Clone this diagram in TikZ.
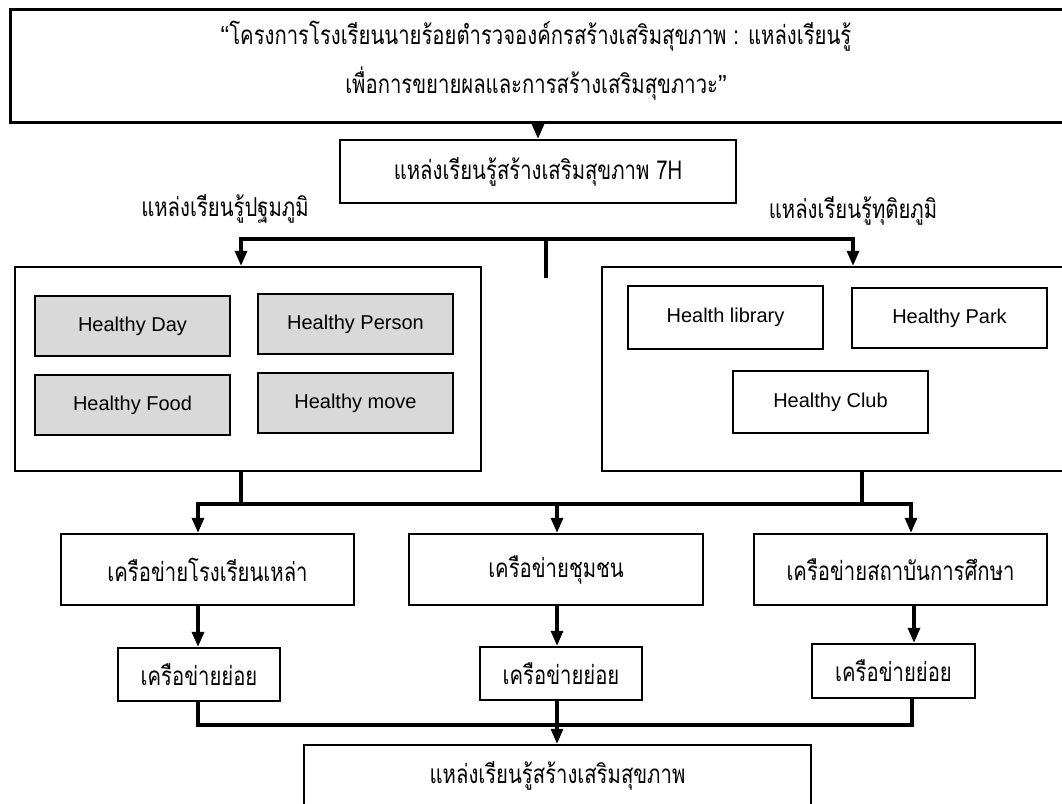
\documentclass[tikz,border=0pt]{standalone}
\usepackage{fontspec}
\setmainfont{Liberation Sans}
\newfontfamily\thaifont[Script=Thai,FakeStretch=0.78]{Loma}
\usetikzlibrary{arrows.meta}

\begin{document}
\begin{tikzpicture}[x=1pt, y=-1pt,
  every node/.style = {shape=rectangle, align=center, inner sep=0pt},
  box/.style = {draw, line width=2.4pt,
    font=\thaifont\fontsize{26pt}{30pt}\selectfont},
  hbox/.style = {draw, line width=1.6pt, fill=black!15,
    minimum width=195pt, minimum height=60pt,
    font=\fontsize{20pt}{24pt}\selectfont},
  ibox/.style = {hbox, fill=white},
  lbl/.style = {font=\thaifont\fontsize{26pt}{30pt}\selectfont},
  conn/.style = {line width=3.2pt},
  arr/.style = {conn, -{Triangle[length=15pt,width=12pt]}}]
  \useasboundingbox (0,0) rectangle (1062,803);
  \clip (0,0) rectangle (1062,803);

  % top of the chart
  \node[box, line width=3pt, minimum width=1058pt, minimum height=113pt] (title) at (539,65.5) {};
  \node[lbl, font=\thaifont\fontsize{26pt}{49pt}\selectfont] (title text) at (536,61)
    {{\rmfamily “}โครงการโรงเรียนนายร้อยตำรวจองค์กรสร้างเสริมสุขภาพ : แหล่งเรียนรู้\\
     เพื่อการขยายผลและการสร้างเสริมสุขภาวะ{\rmfamily ”}};
  \node[box, minimum width=396pt, minimum height=63pt] (h7) at (538,171.5)
    {แหล่งเรียนรู้สร้างเสริมสุขภาพ 7H};
  \node[lbl] (prim label) at (225,209) {แหล่งเรียนรู้ปฐมภูมิ};
  \node[lbl] (sec label) at (853,211) {แหล่งเรียนรู้ทุติยภูมิ};

  % primary and secondary sources
  \node[box, minimum width=466pt, minimum height=204pt] (prim) at (248,369) {};
  \node[box, minimum width=480pt, minimum height=204pt] (sec) at (842,369) {};
  \node[hbox] (day) at (132.5,326) {Healthy Day};
  \node[hbox] (person) at (355.5,324) {Healthy Person};
  \node[hbox] (food) at (132.5,405) {Healthy Food};
  \node[hbox] (move) at (355.5,403) {Healthy move};
  \node[ibox, minimum height=63pt] (library) at (725.5,317.5) {Health library};
  \node[ibox] (park) at (949.5,318) {Healthy Park};
  \node[ibox, minimum height=62pt] (club) at (830.5,402) {Healthy Club};

  % networks
  \node[box, minimum width=293pt, minimum height=71pt] (school) at (207.5,569.5)
    {เครือข่ายโรงเรียนเหล่า};
  \node[box, minimum width=294pt, minimum height=71pt] (community) at (556,569.5)
    {เครือข่ายชุมชน};
  \node[box, minimum width=293pt, minimum height=71pt] (edu) at (900.5,569.5)
    {เครือข่ายสถาบันการศึกษา};
  \node[box, minimum width=162pt, minimum height=53pt] (sub school) at (199,674.5)
    {เครือข่ายย่อย};
  \node[box, minimum width=162pt, minimum height=53pt] (sub community) at (561,673.5)
    {เครือข่ายย่อย};
  \node[box, minimum width=163pt, minimum height=54pt] (sub edu) at (893.5,671)
    {เครือข่ายย่อย};
  \node[box, minimum width=507pt, minimum height=62pt] (result) at (557.5,776)
    {แหล่งเรียนรู้สร้างเสริมสุขภาพ};

  % junction points
  \coordinate (split) at (546,239);
  \coordinate (stub) at (546,278);
  \coordinate (pa) at (241,239);
  \coordinate (sa) at (853,239);
  \coordinate (left drop) at (241,504);
  \coordinate (right drop) at (862,504);
  \coordinate (net a) at (198,504);
  \coordinate (net b) at (557,504);
  \coordinate (net c) at (911,504);
  \coordinate (edu x) at (914,605);
  \coordinate (join a) at (198,725);
  \coordinate (join b) at (557,725);
  \coordinate (join c) at (912,725);

  % connectors
  \draw[arr] (title.south -| h7.north) -- (h7.north);
  \draw[conn] (split) -- (stub);
  \draw[arr] (split) -- (pa) -- (pa |- prim.north);
  \draw[arr] (split) -- (sa) -- (sa |- sec.north);
  \draw[conn] (left drop |- prim.south) -- (left drop);
  \draw[conn] (right drop |- sec.south) -- (right drop);
  \draw[arr] (net b) -- (net a) -- (net a |- school.north);
  \draw[arr] (net b) -- (net c) -- (net c |- edu.north);
  \draw[arr] (net b) -- (net b |- community.north);
  \draw[arr] (school.south -| net a) -- (sub school.north -| net a);
  \draw[arr] (community.south -| net b) -- (sub community.north -| net b);
  \draw[arr] (edu x) -- (edu x |- sub edu.north);
  \draw[conn] (sub school.south -| join a) -- (join a) -- (join c)
    -- (sub edu.south -| join c);
  \draw[arr] (sub community.south -| join b) -- (result.north -| join b);
\end{tikzpicture}
\end{document}
